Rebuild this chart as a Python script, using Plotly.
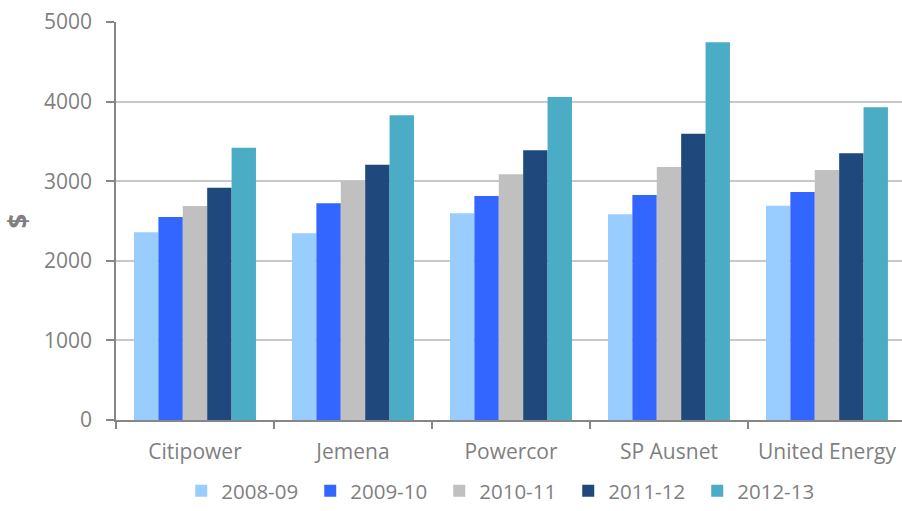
import plotly.graph_objects as go

categories = ["Citipower", "Jemena", "Powercor", "SP Ausnet", "United Energy"]
series_names = ["2008-09", "2009-10", "2010-11", "2011-12", "2012-13"]
v_2008_09 = [2360, 2345, 2597, 2584, 2692]
v_2009_10 = [2550, 2722, 2814, 2827, 2864]
v_2010_11 = [2688, 3007, 3086, 3178, 3141]
v_2011_12 = [2918, 3208, 3388, 3597, 3350]
v_2012_13 = [3421, 3828, 4058, 4745, 3928]
y_ticks = [0, 1000, 2000, 3000, 4000, 5000]

series_values = [v_2008_09, v_2009_10, v_2010_11, v_2011_12, v_2012_13]
colors = ["#99CCFF", "#3366FF", "#C0C0C0", "#1F497D", "#4BACC6"]

FONT = "Open Sans"
GREY = "#7f7f7f"

fig = go.Figure()
for name, vals, col in zip(series_names, series_values, colors):
    fig.add_trace(go.Bar(x=categories, y=vals, name=name, marker_color=col,
                         marker_line_width=0))

fig.update_layout(
    width=902, height=511,
    margin=dict(l=116, r=0, t=22, b=91, autoexpand=False),
    plot_bgcolor="white", paper_bgcolor="white",
    barmode="group", bargap=0.228, bargroupgap=0,
    font=dict(family=FONT, size=21, color=GREY),
    legend=dict(orientation="h", x=0.083, xanchor="left", y=-0.2286, yanchor="bottom",
                font=dict(size=20.5, color=GREY), itemwidth=30, traceorder="normal",
                entrywidth=84, entrywidthmode="pixels"),
    showlegend=True,
)
fig.update_xaxes(
    range=[-0.5, 4.475], showline=True, linecolor="#868686", linewidth=1.5,
    ticks="outside", tickson="boundaries", ticklen=7, tickcolor="#868686",
    tickwidth=1.5, showgrid=False, ticklabelstandoff=12,
)
fig.update_yaxes(
    range=[0, 5000], tickvals=y_ticks, showline=True, linecolor="#868686", linewidth=1.5,
    ticks="outside", ticklen=8, tickcolor="#868686", tickwidth=1.5,
    showgrid=True, gridcolor="#c8c8c8", gridwidth=1.5, zeroline=False,
    ticklabelstandoff=10,
    title=dict(text="<b>$</b>", font=dict(size=26, color=GREY), standoff=18),
)

fig.write_html("out.html", config={"displayModeBar": False},
               post_script="document.body.style.margin='0';document.body.style.overflow='hidden';")
